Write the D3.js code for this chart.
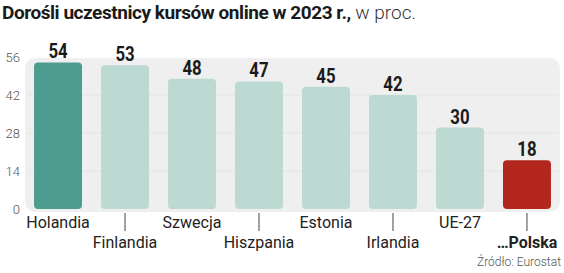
<!DOCTYPE html>
<html>
<head>
<meta charset="utf-8">
<script src="https://cdn.jsdelivr.net/npm/d3@7"></script>
<style>
  body { margin: 0; background: #fff; }
  svg { display: block; }
</style>
</head>
<body>
<div id="chart"></div>
<script>
  // data
  var countries = ["Holandia","Finlandia","Szwecja","Hiszpania","Estonia","Irlandia","UE-27","...Polska"];
  var values = [54,53,48,47,45,42,30,18];
  var barColors = ["#4e9b8f","#bcd9d2","#bcd9d2","#bcd9d2","#bcd9d2","#bcd9d2","#bcd9d2","#b3271f"];
  var yTicks = [0,14,28,42,56];

  var W = 564, H = 273;
  var svg = d3.select("#chart").append("svg")
        .attr("width", W).attr("height", H);

  var x = d3.scaleBand()
        .domain(countries)
        .range([24, 561])
        .paddingInner(0.284)
        .paddingOuter(0.15);

  var y = d3.scaleLinear()
        .domain([0, 56])
        .range([209, 57]);

  // plot background
  svg.append("rect")
     .attr("x", 25).attr("y", y(56) + 1)
     .attr("width", 535).attr("height", y(0) - y(56) + 2)
     .attr("rx", 10)
     .attr("fill", "#efefef");

  // gridlines
  svg.selectAll(".grid")
     .data(yTicks.filter(function(d){ return d > 0 && d < 56; }))
     .enter().append("line")
     .attr("x1", 28).attr("x2", 558)
     .attr("y1", function(d){ return y(d); })
     .attr("y2", function(d){ return y(d); })
     .attr("stroke", "#e4e4e4")
     .attr("stroke-width", 1);

  // y axis labels
  var yAxis = d3.axisLeft(y).tickValues(yTicks).tickSize(0).tickPadding(0);
  var gy = svg.append("g").attr("transform", "translate(20,0)").call(yAxis);
  gy.select(".domain").remove();
  gy.selectAll("text")
    .attr("font-family", "Roboto, 'Noto Sans', sans-serif")
    .attr("font-weight", 300)
    .attr("font-size", 13)
    .attr("fill", "#555");

  // bars
  svg.selectAll(".bar")
     .data(values)
     .enter().append("rect")
     .attr("class", "bar")
     .attr("x", function(d,i){ return x(countries[i]); })
     .attr("y", function(d){ return y(d); })
     .attr("width", x.bandwidth())
     .attr("height", function(d){ return y(0) - y(d); })
     .attr("rx", 4)
     .attr("fill", function(d,i){ return barColors[i]; });

  // value labels (condensed look via horizontal squeeze)
  svg.selectAll(".val")
     .data(values)
     .enter().append("text")
     .attr("transform", function(d,i){
        return "translate(" + (x(countries[i]) + x.bandwidth()/2) + "," + (y(d) - 4) + ") scale(0.8,1)";
     })
     .attr("text-anchor", "middle")
     .attr("font-family", "Roboto, 'Noto Sans', sans-serif")
     .attr("font-weight", "bold")
     .attr("font-size", 21)
     .attr("fill", "#1a1a1a")
     .text(function(d){ return d; });

  // category labels, alternating rows
  var xAxis = svg.append("g");
  countries.forEach(function(c, i){
    var cx = x(c) + x.bandwidth()/2;
    var low = i % 2 == 1;
    if (low) {
      xAxis.append("line")
        .attr("x1", cx).attr("x2", cx)
        .attr("y1", 213).attr("y2", 231)
        .attr("stroke", "#444").attr("stroke-width", 1);
    }
    xAxis.append("text")
      .attr("x", cx)
      .attr("y", low ? 248 : 228)
      .attr("text-anchor", "middle")
      .attr("font-family", "Roboto, 'Noto Sans', sans-serif")
      .attr("font-size", 16)
      .attr("font-weight", c == "...Polska" ? "bold" : "normal")
      .attr("fill", "#222")
      .text(c == "...Polska" ? "\u2026Polska" : c);
  });

  // title
  var title = svg.append("text")
     .attr("x", 2).attr("y", 19)
     .attr("font-family", "Roboto, 'Noto Sans', sans-serif")
     .attr("font-size", 19)
     .attr("fill", "#1a1a1a");
  title.append("tspan").attr("font-weight", "bold").attr("letter-spacing", -0.45)
     .text("Dorośli uczestnicy kursów online w 2023 r.,");
  title.append("tspan").attr("font-weight", 300).attr("fill", "#333")
     .text(" w proc.");

  // source
  svg.append("text")
     .attr("x", 561).attr("y", 266)
     .attr("text-anchor", "end")
     .attr("font-family", "Roboto, 'Noto Sans', sans-serif")
     .attr("font-weight", 300)
     .attr("font-size", 12)
     .attr("fill", "#555")
     .text("Źródło: Eurostat");
</script>
</body>
</html>
